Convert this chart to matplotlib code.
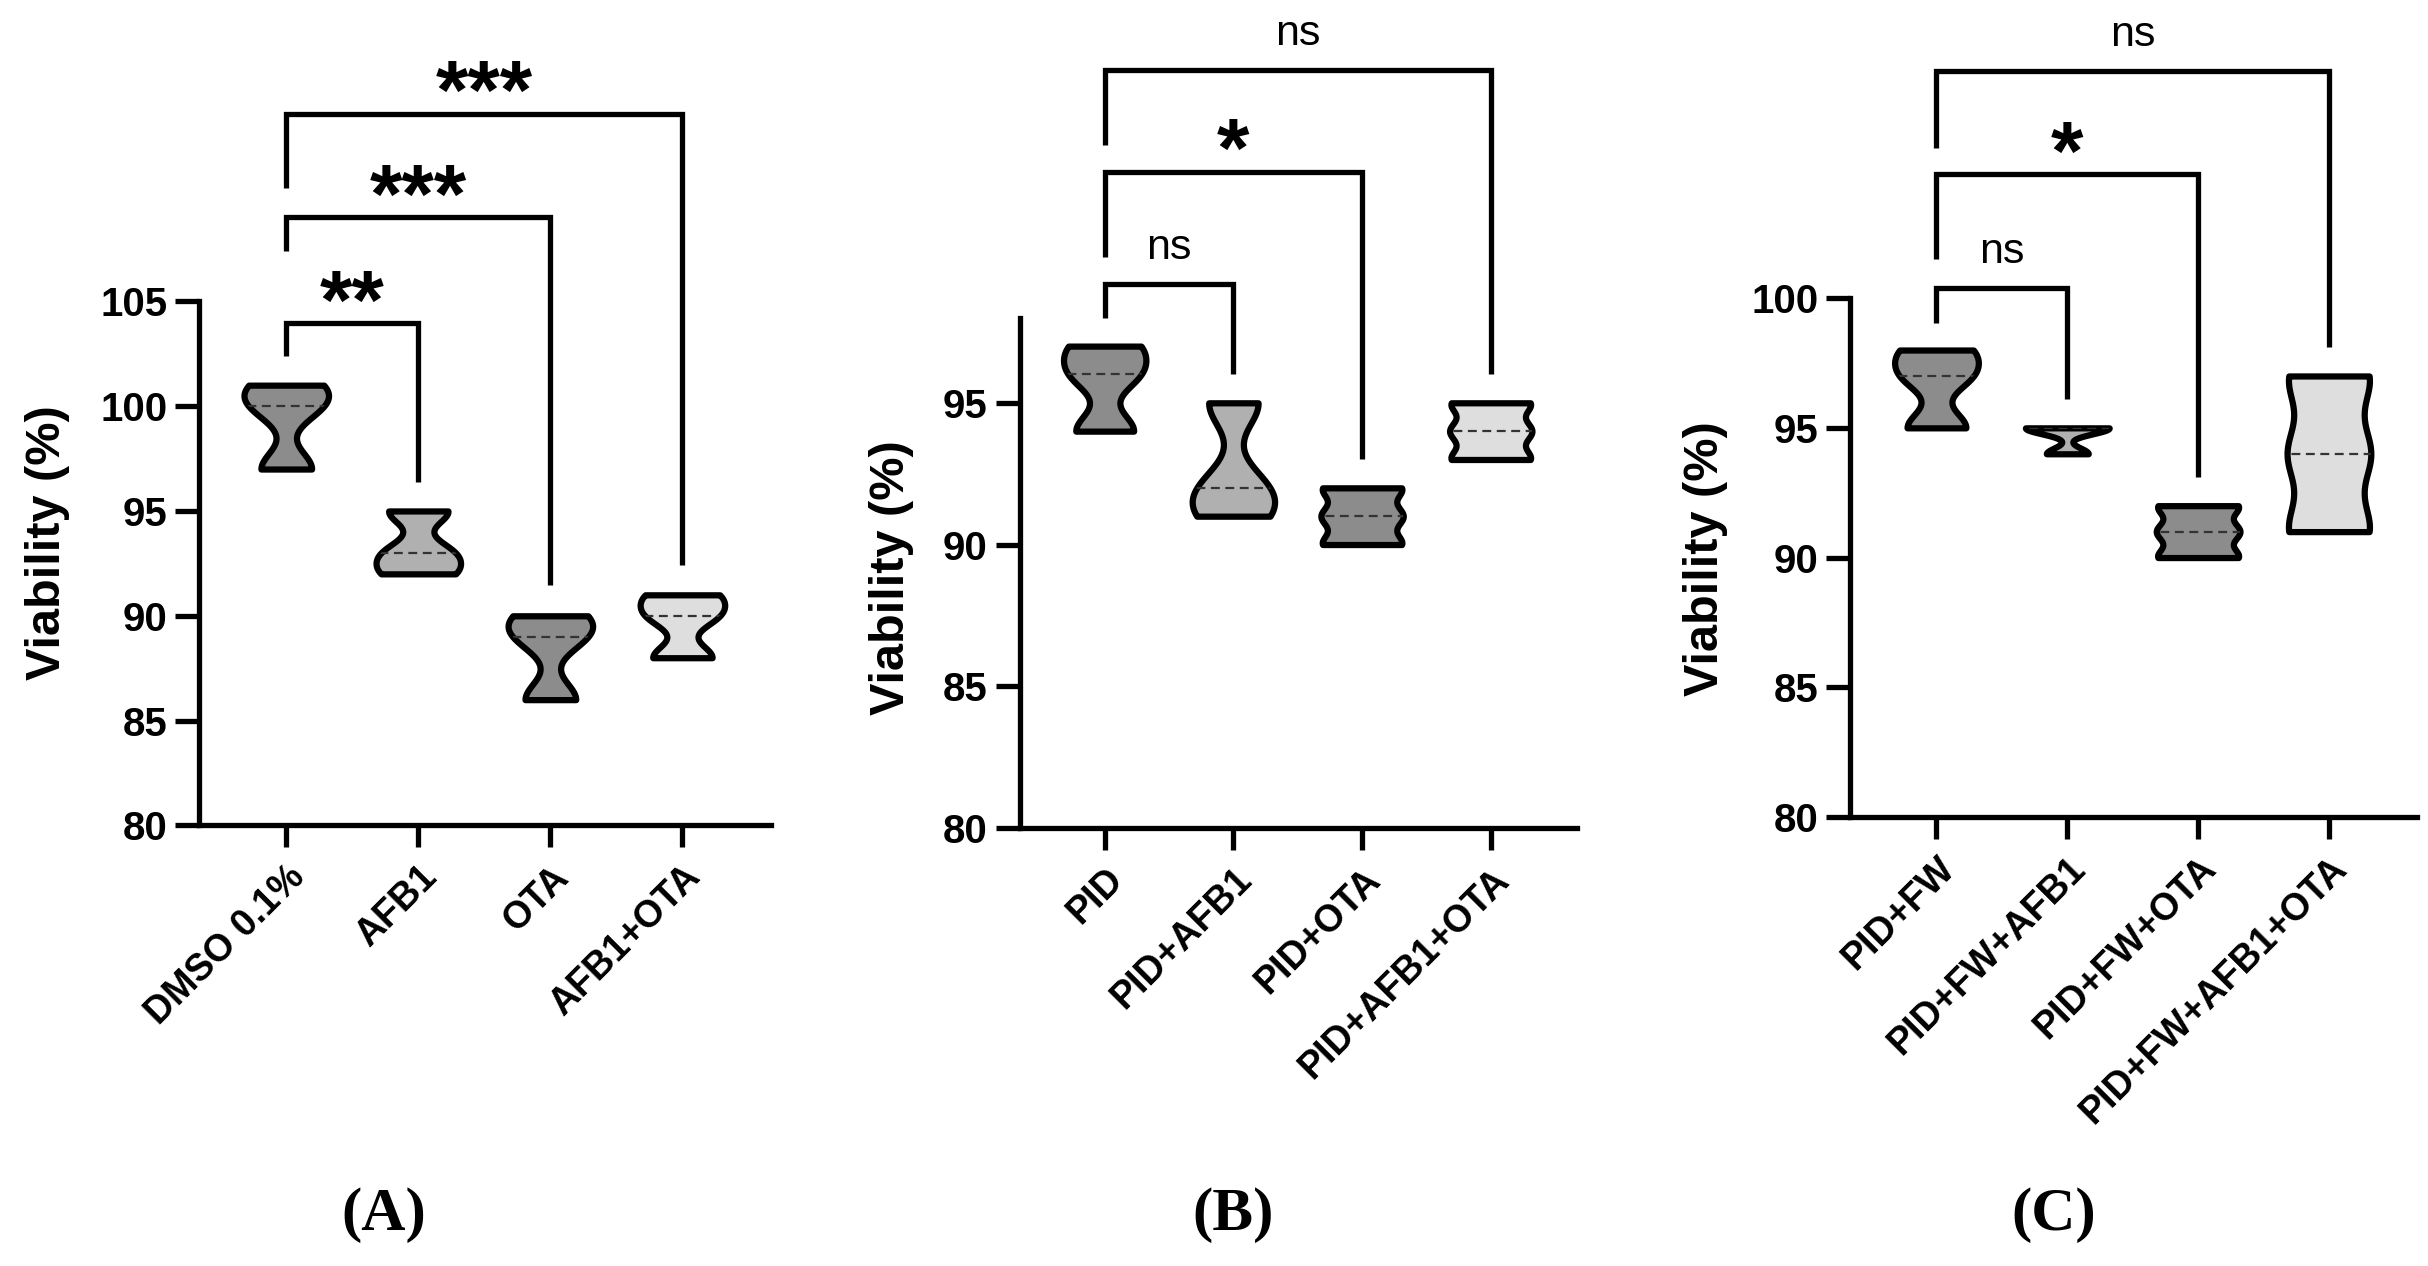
import numpy as np
import matplotlib
matplotlib.use("Agg")
import matplotlib.pyplot as plt

plt.rcParams['font.family'] = ['Liberation Sans', 'DejaVu Sans']

# replicate viability values (%) per group
cats_a = ["DMSO 0.1%", "AFB1", "OTA", "AFB1+OTA"]
vals_a = [[97, 100, 101], [92, 93, 95], [86, 89, 90], [88, 90, 91]]

cats_b = ["PID", "PID+AFB1", "PID+OTA", "PID+AFB1+OTA"]
vals_b = [[94, 96, 97], [91, 92, 95], [90, 91, 92], [93, 94, 95]]

cats_c = ["PID+FW", "PID+FW+AFB1", "PID+FW+OTA", "PID+FW+AFB1+OTA"]
vals_c = [[95, 97, 98], [94, 95, 95], [90, 91, 92], [91, 94, 97]]

# comparison brackets: (group i, group j, bar height, left leg end, right leg end, label)
sig_a = [(0, 3, 113.95, 110.4, 92.4, "***"), (0, 2, 109.0, 107.4, 91.45, "***"),
         (0, 1, 103.96, 102.4, 96.4, "**")]
sig_b = [(0, 3, 106.74, 104.1, 96.03, "ns"), (0, 2, 103.16, 100.15, 93.02, "*"),
         (0, 1, 99.18, 98.0, 96.03, "ns")]
sig_c = [(0, 3, 108.75, 105.8, 98.1, "ns"), (0, 2, 104.78, 101.5, 93.1, "*"),
         (0, 1, 100.4, 99.06, 96.1, "ns")]

fills = ["#8c8c8c", "#b0b0b0", "#8c8c8c", "#dedede"]

fig = plt.figure(figsize=(24.28, 12.66), dpi=100)


def panel(rect, cats, vals, ylim, yticks, sigs, label_xy):
    ax = fig.add_axes(rect)
    for i, v in enumerate(vals):
        parts = ax.violinplot([v], positions=[i], widths=0.64, bw_method=0.4,
                              showextrema=False, points=200)
        body = parts['bodies'][0]
        body.set_facecolor(fills[i])
        body.set_edgecolor('black')
        body.set_linewidth(4.5)
        body.set_alpha(1)
        body.set_joinstyle('round')
        body.set_zorder(2)
        med = np.median(v)
        ln = ax.hlines(med, i - 0.4, i + 0.4, colors='#333333', linestyles=(0, (4, 2.5)),
                       linewidth=1.6, zorder=3)
        ln.set_clip_path(body.get_paths()[0], ax.transData)

    for i, j, yb, yl, yr, lab in sigs:
        ax.plot([i, i, j, j], [yl, yb, yb, yr], color='black', lw=3.8, clip_on=False,
                solid_joinstyle='miter', solid_capstyle='butt')
        if lab == "ns":
            ax.annotate(lab, xy=((i + j) / 2, yb), xytext=(0, 18), textcoords='offset points',
                        ha='center', va='baseline', fontsize=31, annotation_clip=False)
        else:
            ax.annotate(lab, xy=((i + j) / 2, yb), xytext=(0, -4), textcoords='offset points',
                        ha='center', va='baseline', fontsize=60, fontweight='bold',
                        annotation_clip=False)

    ax.set_xlim(-0.66, 3.67)
    ax.set_ylim(*ylim)
    ax.set_yticks(yticks)
    ax.set_xticks(range(len(cats)))
    ax.set_xticklabels(cats, rotation=45, ha='right', rotation_mode='anchor',
                       fontsize=27, fontweight='bold')
    for t in ax.get_yticklabels():
        t.set_fontsize(29)
        t.set_fontweight('bold')
    ax.tick_params(axis='y', length=17, width=3.8, pad=6)
    ax.tick_params(axis='x', length=16, width=3.8, pad=8)
    for s in ['top', 'right']:
        ax.spines[s].set_visible(False)
    for s in ['left', 'bottom']:
        ax.spines[s].set_linewidth(3.8)
    ax.set_ylabel("Viability (%)", fontsize=35, fontweight='bold')
    ax.yaxis.set_label_coords(*label_xy)
    return ax


panel([0.082, 0.348, 0.2355, 0.414], cats_a, vals_a, (80, 105), range(80, 106, 5), sig_a, (-0.226, 0.54))
panel([0.420, 0.346, 0.2295, 0.403], cats_b, vals_b, (80, 98), range(80, 96, 5), sig_b, (-0.19, 0.49))
panel([0.762, 0.3547, 0.2333, 0.4098], cats_c, vals_c, (80, 100), range(80, 101, 5), sig_c, (-0.216, 0.497))

for x, lab in [(0.158, "(A)"), (0.508, "(B)"), (0.846, "(C)")]:
    fig.text(x, 0.04, lab, ha='center', va='center', fontsize=44, fontweight='bold',
             family=['Liberation Serif', 'DejaVu Serif'])

fig.savefig("out.png", dpi=100, facecolor='white')
